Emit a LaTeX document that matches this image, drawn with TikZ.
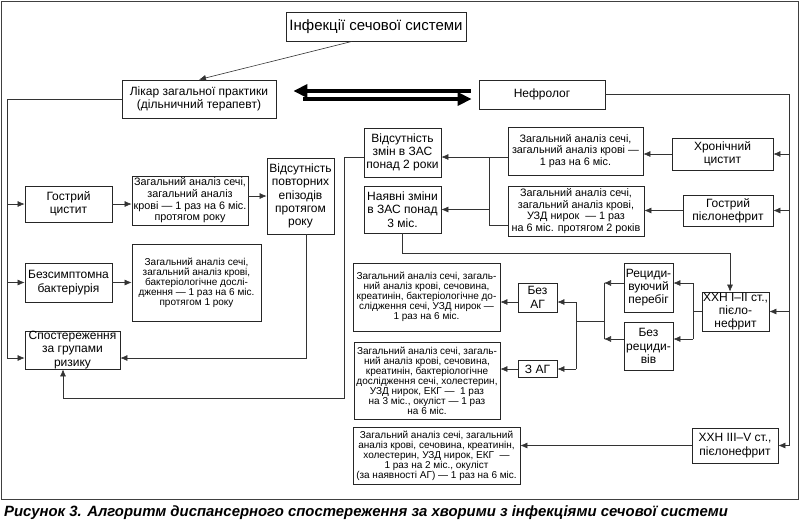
\documentclass[tikz,border=0pt]{standalone}
\usepackage{fontspec}
\setmainfont{Liberation Sans}
\usetikzlibrary{arrows.meta,calc}
\begin{document}
\begin{tikzpicture}[x=1pt,y=-1pt,
  box/.style={draw=black!85, line width=0.8pt, align=center, inner sep=0pt, font=\fontsize{12}{13.3}\selectfont},
  tbox/.style={box, font=\fontsize{15}{16}\selectfont},
  mbox/.style={box, font=\fontsize{10.8}{11.6}\selectfont},
  sbox/.style={box, font=\fontsize{10}{10}\selectfont},
  ln/.style={draw=black!80, line width=0.6pt},
  arr/.style={ln, -{Latex[length=7pt,width=6pt]}},
  thickarr/.style={draw=black, line width=4pt, -{Triangle[length=14pt,width=13pt]}},
  frame/.style={draw=black!75, line width=1.6pt}
]
\useasboundingbox (0,0) rectangle (800,523);
\draw[frame] (1.5,1.5) rectangle (798.5,499.5);

% nodes
\node[tbox, minimum width=180pt, minimum height=29pt] (title) at (376,26.5) {Інфекції сечової системи};
\node[box, minimum width=154pt, minimum height=38pt] (likar) at (199,99) {Лікар загальної практики\\(дільничний терапевт)};
\node[box, minimum width=126pt, minimum height=29pt] (nefro) at (542,94.5) {Нефролог};

\node[box, minimum width=87pt, minimum height=36pt] (gcyst) at (68.5,204) {Гострий\\цистит};
\node[mbox, minimum width=116pt, minimum height=49pt] (a1) at (190,200.5) {Загальний аналіз сечі,\\загальний аналіз\\крові — 1 раз на 6 міс.\\протягом року};
\node[box, minimum width=67pt, minimum height=76pt] (vidpov) at (300.5,196) {Відсутність\\повторних\\епізодів\\протягом\\року};
\node[box, minimum width=87pt, minimum height=39pt] (bezs) at (68.5,282.5) {Безсимптомна\\бактеріурія};
\node[sbox, minimum width=129pt, minimum height=77pt] (a2) at (196.5,282.5) {Загальний аналіз сечі,\\загальний аналіз крові,\\бактеріологічне  дослі-\\дження — 1 раз на 6 міс.\\протягом 1 року};
\node[box, minimum width=95pt, minimum height=38pt] (spost) at (72.5,350) {Спостереження\\за групами\\ризику};

\node[box, minimum width=77pt, minimum height=49pt] (vidzm) at (402.5,152.5) {Відсутність\\змін в ЗАС\\понад 2 роки};
\node[box, minimum width=77pt, minimum height=47pt] (nayav) at (402.5,209.5) {Наявні зміни\\в ЗАС понад\\3 міс.};
\node[mbox, minimum width=135pt, minimum height=48pt] (a3) at (575.5,151) {Загальний аналіз сечі,\\загальний аналіз крові —\\1 раз на 6 міс.};
\node[mbox, minimum width=136pt, minimum height=50pt] (a4) at (576,211) {Загальний аналіз сечі,\\загальний аналіз крові,\\УЗД нирок \ — 1 раз\\на 6 міс. протягом 2 років};
\node[box, minimum width=101pt, minimum height=32pt] (hrc) at (722.5,154) {Хронічний\\цистит};
\node[box, minimum width=90pt, minimum height=31pt] (gpiel) at (728,210.5) {Гострий\\пієлонефрит};

\node[box, minimum width=49pt, minimum height=49pt] (recid) at (648.5,287.5) {Рециди-\\вуючий\\перебіг};
\node[box, minimum width=49pt, minimum height=48pt] (bezrec) at (648.5,346) {Без\\рециди-\\вів};
\node[box, minimum width=67pt, minimum height=39pt] (hhn12) at (735.5,311.5) {ХХН I–II ст.,\\пієло-\\нефрит};
\node[box, minimum width=39pt, minimum height=29pt] (bezag) at (537.5,297.5) {Без\\АГ};
\node[box, minimum width=39pt, minimum height=17pt] (zag) at (537.5,369) {З АГ};
\node[sbox, minimum width=147pt, minimum height=68pt] (a5) at (426.5,297) {Загальний аналіз сечі, загаль-\\ний аналіз крові, сечовина,\\креатинін, бактеріологічне  до-\\слідження сечі, УЗД нирок —\\1 раз на 6 міс.};
\node[sbox, minimum width=146pt, minimum height=77pt] (a6) at (427,380.5) {Загальний аналіз сечі, загаль-\\ний аналіз крові, сечовина,\\креатинін, бактеріологічне\\дослідження сечі, холестерин,\\УЗД нирок, ЕКГ — \ 1 раз\\на 3 міс., окуліст — 1 раз\\на 6 міс.};
\node[box, minimum width=86pt, minimum height=35pt] (hhn35) at (735,445.5) {ХХН III–V ст.,\\пієлонефрит};
\node[sbox, minimum width=167pt, minimum height=57pt] (a7) at (436.5,455.5) {Загальний аналіз сечі, загальний\\аналіз крові, сечовина, креатинін,\\холестерин, УЗД нирок, ЕКГ \ —\\1 раз на 2 міс., окуліст\\(за наявності АГ) — 1 раз на 6 міс.};

\node[anchor=base west, inner sep=0pt, font=\fontsize{14.9}{15}\selectfont\bfseries\itshape] (cap) at (4,516.5) {Рисунок 3. Алгоритм диспансерного спостереження за хворими з інфекціями сечової системи};

% top connectors
\draw[arr] ([xshift=-24pt]title.south) -- (likar.north);
\draw[thickarr] ([xshift=-8pt,yshift=3.5pt]nefro.west) -- ([xshift=17pt,yshift=8pt]likar.east);
\draw[thickarr] ([xshift=27pt]likar.east) -- ([xshift=-7pt,yshift=-4.5pt]nefro.west);

% right trunk
\coordinate (rt) at (789,94.5);
\coordinate (rb) at (789,445.5);
\draw[ln] (nefro.east) -- (rt) -- (rb);
\draw[arr] (rt |- hrc.east) -- (hrc.east);
\draw[arr] (rt |- gpiel.east) -- (gpiel.east);
\draw[arr] (rt |- hhn12.east) -- (hhn12.east);
\draw[arr] (rb) -- (hhn35.east);

\draw[arr] (hrc.west) -- (hrc.west -| a3.east);
\draw[arr] (gpiel.west) -- (gpiel.west -| a4.east);
\coordinate (ma) at (508,157);
\draw[arr] (ma) -- (ma -| vidzm.east);
\coordinate (j1) at (489,225);
\draw[ln] (j1 -| a4.west) -- (j1) -- (j1 |- ma);
\draw[arr] (j1 |- nayav.east) -- (nayav.east);

\draw[arr] (nayav.south) -- ++(0,20) -| ([xshift=-5.5pt]hhn12.north);

% HHN I-II branches
\coordinate (j2t) at (693,283);
\coordinate (j2b) at (693,339);
\draw[ln] (hhn12.west) -- (hhn12.west -| j2t);
\draw[ln] (j2t) -- (j2b);
\draw[arr] (j2t) -- (j2t -| recid.east);
\draw[arr] (j2b) -- (j2b -| bezrec.east);

\coordinate (j3t) at (604,283);
\coordinate (j3b) at (604,339);
\draw[arr] (j3t -| recid.west) -- (j3t);
\draw[arr] (j3b -| bezrec.west) -- (j3b);
\draw[ln] (j3t) -- (j3b);
\coordinate (j4) at (576,321);
\draw[ln] (j4 -| j3t) -- (j4);
\coordinate (j4t) at (576,302);
\coordinate (j4b) at (576,369);
\draw[ln] (j4t) -- (j4b);
\draw[arr] (j4t) -- (j4t -| bezag.east);
\draw[arr] (j4b) -- (zag.east);
\draw[arr] (bezag.west |- j4t) -- (j4t -| a5.east);
\draw[arr] (zag.west) -- (zag.west -| a6.east);
\draw[arr] (hhn35.west) -- (hhn35.west -| a7.east);

% left trunk
\coordinate (lt) at (7,99);
\coordinate (lb) at (7,358);
\draw[ln] (likar.west) -- (lt) -- (lb);
\draw[arr] (lt |- gcyst.west) -- (gcyst.west);
\draw[arr] (lt |- bezs.west) -- (bezs.west);
\draw[arr] (lb) -- (lb -| spost.west);

\draw[arr] (gcyst.east) -- (gcyst.east -| a1.west);
\draw[arr] (a1.east |- vidpov.west) -- (vidpov.west);
\draw[arr] (bezs.east) -- (bezs.east -| a2.west);
\draw[arr] ([xshift=5.5pt]vidpov.south) |- (lb -| spost.east);

\coordinate (k1) at (344,157);
\draw[arr] (vidzm.west |- k1) -- (k1) -- (344,398) -| ([xshift=-9.5pt]spost.south);
\end{tikzpicture}
\end{document}
